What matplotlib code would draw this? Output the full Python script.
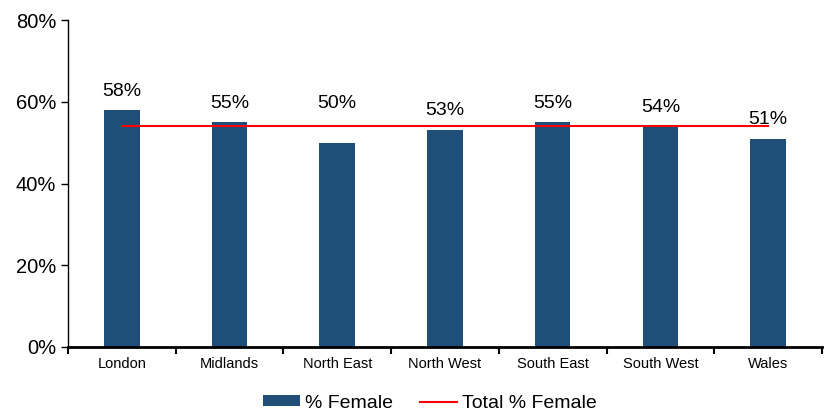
import matplotlib.pyplot as plt
from matplotlib.ticker import FuncFormatter, FixedLocator
from typing import List

plt.rcParams['font.family'] = ['Liberation Sans', 'DejaVu Sans']

regions: List[str] = ["London", "Midlands", "North East", "North West",
                      "South East", "South West", "Wales"]
pct_female: List[int] = [58, 55, 50, 53, 55, 54, 51]
total_female: float = 54

# where each value label sits (axis units), moved clear of the red line
label_y: List[float] = [62.5, 59.7, 59.7, 57.9, 59.7, 58.6, 55.7]


def female_share_chart() -> None:
    """Bar chart of % female per region with the overall share as a line"""
    fig = plt.figure(figsize=(8.24, 4.12), dpi=100)
    ax = fig.add_axes([0.0825, 0.158, 0.915, 0.793])

    x = list(range(len(regions)))
    bars = ax.bar(x, pct_female, width=0.33, color='#1F4E79', label='% Female', zorder=2)
    ax.plot([x[0], x[-1]], [total_female, total_female], color='#FF0000',
            linewidth=1.5, label='Total % Female', zorder=3)

    for rect, val, ly in zip(bars, pct_female, label_y):
        ax.text(rect.get_x() + rect.get_width() / 2, ly, f"{val}%",
                ha='center', va='center', fontsize=14, zorder=4)

    ax.set_xlim(-0.5, len(regions) - 0.5)
    ax.set_ylim(0, 80)
    ax.set_yticks([0, 20, 40, 60, 80])
    ax.yaxis.set_major_formatter(FuncFormatter(lambda v, _: f"{v:.0f}%"))
    ax.tick_params(axis='y', labelsize=14.5, length=5, width=1, direction='out')

    # labels sit under the bars, tick marks between categories
    ax.set_xticks(x)
    ax.set_xticklabels(regions, fontsize=10.5)
    ax.tick_params(axis='x', which='major', length=0, pad=7)
    ax.xaxis.set_minor_locator(FixedLocator([i - 0.5 for i in range(len(regions) + 1)]))
    ax.tick_params(axis='x', which='minor', length=5, width=1.5, direction='out')

    for side in ['top', 'right']:
        ax.spines[side].set_visible(False)
    ax.spines['left'].set_linewidth(1)
    ax.spines['bottom'].set_linewidth(2)

    handles, labels = ax.get_legend_handles_labels()
    order = [labels.index('% Female'), labels.index('Total % Female')]
    fig.legend([handles[i] for i in order], [labels[i] for i in order],
               loc='lower center', bbox_to_anchor=(0.522, -0.042), ncol=2,
               frameon=False, fontsize=14, handlelength=1.9, handleheight=0.5,
               columnspacing=1.4, handletextpad=0.25)

    fig.savefig('out.png', dpi=100)


if __name__ == '__main__':
    female_share_chart()
